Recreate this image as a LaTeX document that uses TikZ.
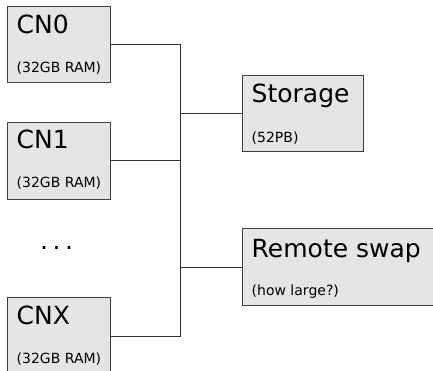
\documentclass[tikz,border=0pt]{standalone}
\usepackage{fontspec}
\setmainfont{DejaVu Sans}
\usetikzlibrary{positioning}

\tikzset{
  unit/.style={draw=black!75, fill=black!10, line width=0.8pt,
    anchor=north west, inner sep=0pt, minimum height=76pt},
  title/.style={anchor=base west, inner sep=0pt,
    font=\fontsize{25}{30}\selectfont},
  note/.style={anchor=base west, inner sep=0pt,
    font=\fontsize{14}{17}\selectfont},
  wire/.style={draw=black!80, line width=0.8pt}
}

\begin{document}
\begin{tikzpicture}[x=1pt,y=-1pt]
  \useasboundingbox (0,0) rectangle (433,371);
  \clip (0,0) rectangle (433,371);

  % compute nodes
  \node[unit, minimum width=103pt] (cn0) at (7,6.5) {};
  \node[unit, minimum width=103pt, minimum height=77pt] (cn1) at (7,122) {};
  \node[unit, minimum width=103pt, minimum height=77pt] (cnx) at (7,297) {};
  \node[title] (dots) at (40,249.5) {.\hspace{4.5pt}.\hspace{4.5pt}.};

  % storage side
  \node[unit, minimum width=121pt] (storage) at (241.5,75) {};
  \node[unit, minimum width=200pt, minimum height=77pt] (swap) at (241.5,228) {};

  % labels
  \node[title] (cn0t) at ([xshift=9.5pt,yshift=-27pt]cn0.north west) {CN0};
  \node[note]  (cn0n) at ([xshift=9.5pt,yshift=-66.5pt]cn0.north west) {(32GB RAM)};
  \node[title] (cn1t) at ([xshift=9.5pt,yshift=-27pt]cn1.north west) {CN1};
  \node[note]  (cn1n) at ([xshift=9.5pt,yshift=-66pt]cn1.north west) {(32GB RAM)};
  \node[title] (cnxt) at ([xshift=9.5pt,yshift=-27pt]cnx.north west) {CNX};
  \node[note]  (cnxn) at ([xshift=9.5pt,yshift=-66pt]cnx.north west) {(32GB RAM)};
  \node[title] (storaget) at ([xshift=10pt,yshift=-28pt]storage.north west) {Storage};
  \node[note]  (storagen) at ([xshift=10pt,yshift=-68pt]storage.north west) {(52PB)};
  \node[title] (swapt) at ([xshift=10pt,yshift=-29pt]swap.north west) {Remote swap};
  \node[note]  (swapn) at ([xshift=10pt,yshift=-67pt]swap.north west) {(how large?)};

  % bus
  \coordinate (bus) at (180.5,0);
  \draw[wire] (cn0.east) -| (bus |- cnx.east) -- (cnx.east);
  \draw[wire] (cn1.east) -- (cn1.east -| bus);
  \draw[wire] (storage.west) -- (storage.west -| bus);
  \draw[wire] (swap.west) -- (swap.west -| bus);
\end{tikzpicture}
\end{document}
